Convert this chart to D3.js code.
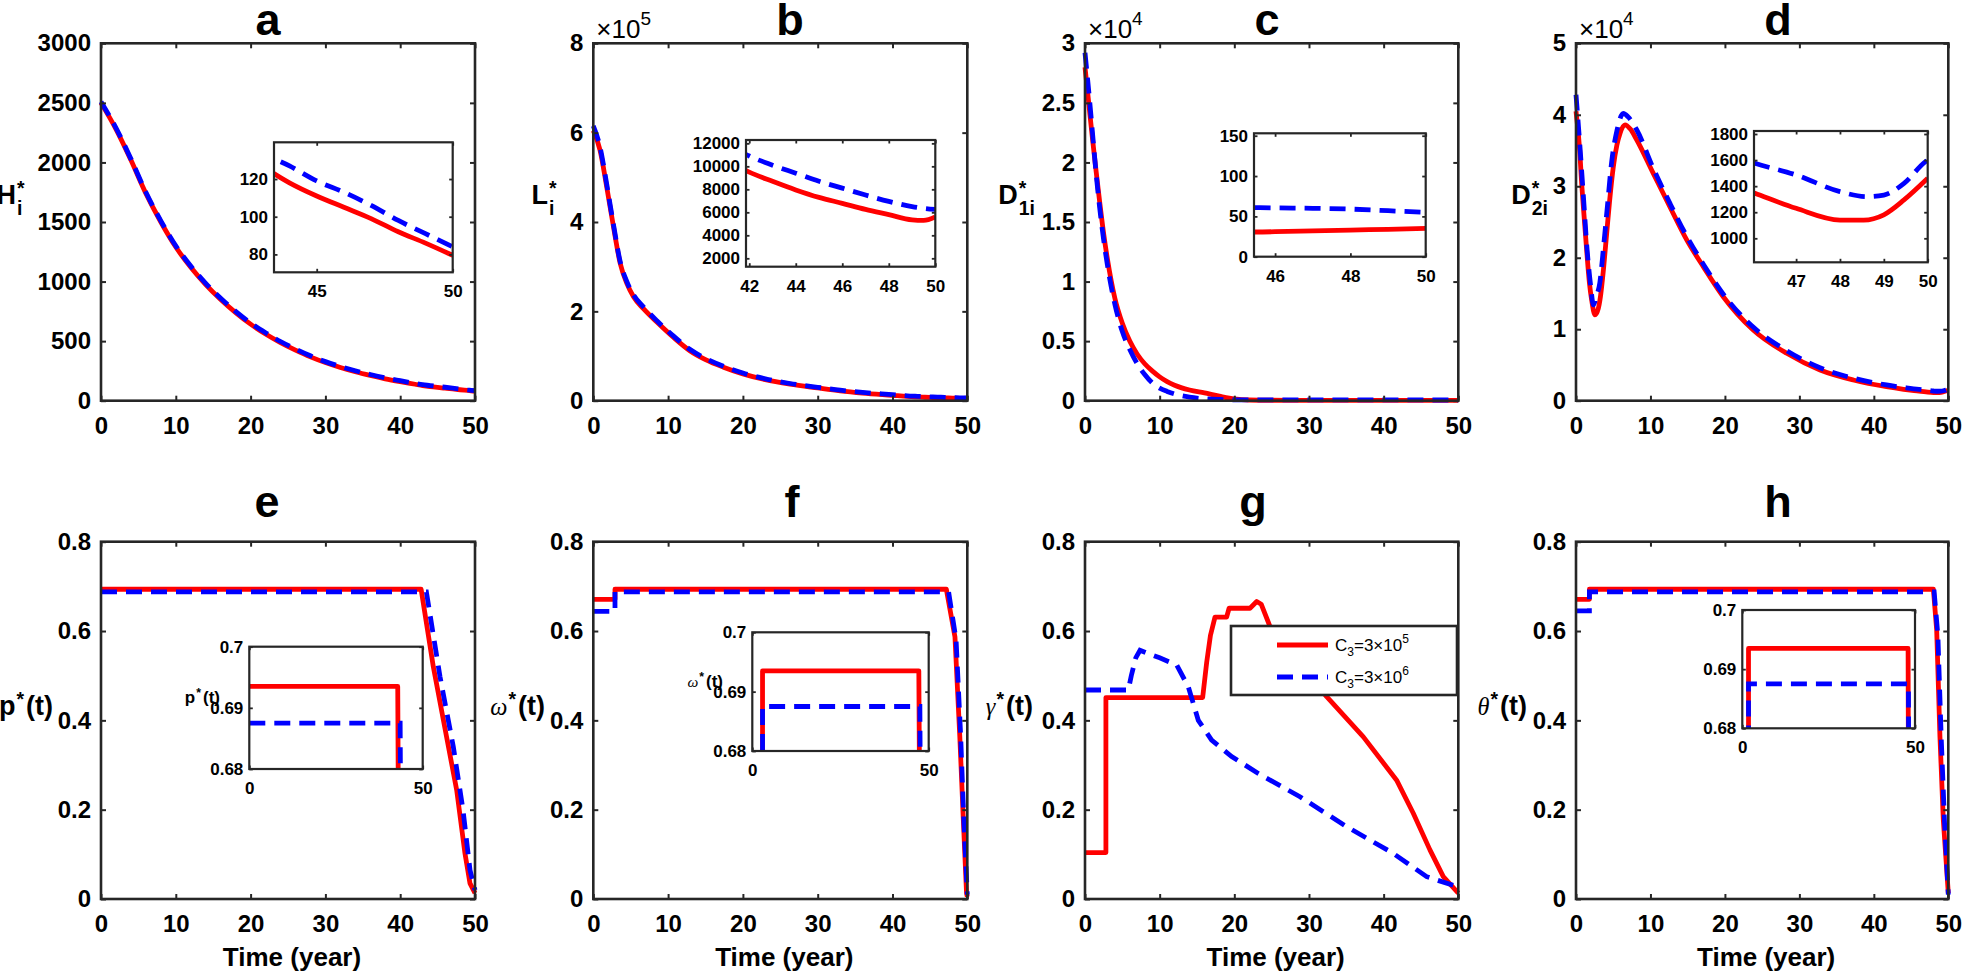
<!DOCTYPE html>
<html><head><meta charset="utf-8">
<script src="https://cdn.jsdelivr.net/npm/d3@7"></script>
<style>
body{margin:0;background:#fff;}
svg{display:block;}
</style></head><body>
<svg id="chart" width="1968" height="972"></svg>
<script>
// ---------------- DATA ----------------
const mainXTicks = [0,10,20,30,40,50];
const aYTicks = [0,500,1000,1500,2000,2500,3000];
const bYTicks = [0,200000,400000,600000,800000];
const cYTicks = [0,5000,10000,15000,20000,25000,30000];
const dYTicks = [0,10000,20000,30000,40000,50000];
const ctrlYTicks = [0,0.2,0.4,0.6,0.8];

// a: H_i*
const aTime = [0,2,4,6,8,10,12,14,16,18,20,22,24,26,28,30,32,34,36,38,40,42,43,44,45,46,47,48,49,50];
const aRed  = [2500,2280,2020,1740,1500,1290,1120,975,850,740,643,560,488,425,368,320,279,243,212,184,160,138,127,118,111,105,99,92,86,79.5];
const aBlue = [2510,2290,2030,1750,1510,1300,1130,985,860,750,652,570,497,434,377,328,287,251,220,192,168,145,134,127,119,113,106,98,91,84];
const aInsetXTicks = [45,50];
const aInsetYTicks = [80,100,120];

// b: L_i*
const bTime = [0,0.9,1.8,2.7,3.6,4.5,5.4,6.7,8.5,10.7,12.9,15,17.4,20,23,26.3,30,33,36,40,42,43,44,45,46,47,48,49,49.5,50];
const bRed  = [605000,561000,478000,389000,307000,262000,232000,206000,176000,142000,112000,92000,75000,60000,47000,37000,28500,22000,17000,12000,9500,8700,7950,7300,6780,6250,5800,5350,5300,5600];
const bBlue = [615000,568000,484000,394000,311000,266000,236000,210000,179000,145000,115000,94500,77000,62000,49000,38500,30000,23500,18500,13500,10900,10100,9400,8700,8100,7500,6950,6500,6350,6250];
const bInsetXTicks = [42,44,46,48,50];
const bInsetYTicks = [2000,4000,6000,8000,10000,12000];

// c: D_1i*
const cTimeRed = [0,0.5,1,1.5,2,2.5,3,3.5,4,5,6,7,8,9,10,11,12,14,16,18,20,22,25,30,35,40,45,46,47,48,49,50];
const cRed     = [28000,25000,22000,19200,16500,14000,11900,10100,8600,6500,5000,3900,3100,2500,2000,1600,1300,900,650,380,150,60,36,32,31,31,30.5,31,32,33,34,35];
const cTimeBlue = [0,0.5,1,1.5,2,2.5,3,3.5,4,5,6,7,8,9,10,11,12,14,16,18,20,25,30,40,45,46,47,48,49,50];
const cBlue     = [29200,26000,22500,19000,16000,13500,11400,9600,8100,5800,4300,3100,2200,1500,1050,780,560,300,160,100,75,64,62,61,61,60.5,60,59,57,55];
const cInsetXTicks = [46,48,50];
const cInsetYTicks = [0,50,100,150];

// d: D_2i*
const dTimeRed = [0,0.5,0.76,1,1.43,1.8,2.1,2.55,3,3.22,3.7,4.12,4.5,5.01,5.5,5.91,6.58,7.3,8.15,10.38,12.62,14.87,17.1,19.78,23.8,28.3,32.77,37.24,41.7,44,46.06,47,48,48.54,49,49.46,50];
const dRed     = [40500,35000,30400,27000,21100,16500,14100,12000,12900,14100,18500,23400,27800,32700,35800,37400,38600,38000,36500,31800,27100,22500,18750,14550,9900,6630,4300,2900,1960,1600,1345,1230,1140,1140,1180,1294,1460];
const dTimeBlue = [0,0.5,1,1.5,2,2.33,2.7,3.2,3.7,4.2,4.8,5.5,6.35,7,8.15,10.38,12.62,14.87,17.1,19.78,23.8,28.3,32.77,37.24,41.7,44,46.06,47,48,48.6,49,49.46,49.95,50];
const dBlue     = [42800,36000,28500,21000,15800,13400,14500,16500,21500,27000,33500,37800,40200,39700,37900,32500,27600,23000,19100,14900,10300,7000,4600,3150,2200,1850,1575,1486,1358,1320,1332,1422,1588,1600];
const dInsetXTicks = [47,48,49,50];
const dInsetYTicks = [1000,1200,1400,1600,1800];

// e: p*(t)
const eTimeRed = [0,42.8,44.43,46.2,47.55,48.66,49.33,50];
const eRed     = [0.6935,0.6935,0.52,0.363,0.244,0.102,0.035,0.013];
const eTimeBlue = [0,43.5,45.32,47.1,48.4,49.33,50];
const eBlue     = [0.6875,0.6875,0.498,0.341,0.199,0.065,0.02];

// f: omega*(t)
const fTimeRed = [0,2.9,2.9,47.2,48.35,49.0,49.47,49.9,50];
const fRed     = [0.671,0.671,0.6935,0.6935,0.587,0.363,0.177,0.013,0.005];
const fTimeBlue = [0,2.9,2.9,47.5,48.5,49.1,49.55,50];
const fBlue     = [0.644,0.644,0.6875,0.6875,0.58,0.37,0.17,0.01];

// g: gamma*(t)
const gTimeRed = [0,2.8,2.8,15.76,16.3,16.8,17.41,18.97,19.3,22.1,23.0,23.6,24.78,32.37,37.28,41.74,43.97,46.2,47.99,50];
const gRed     = [0.104,0.104,0.451,0.451,0.53,0.59,0.631,0.631,0.651,0.651,0.666,0.66,0.61,0.453,0.363,0.266,0.192,0.110,0.050,0.013];
const gTimeBlue = [0,5.8,6.2,6.8,7.37,8.26,10,12.28,13.84,15.18,16.96,19.64,23.21,28.79,35.04,41.29,45.76,49.78,50];
const gBlue     = [0.468,0.468,0.50,0.54,0.557,0.551,0.54,0.524,0.475,0.40,0.356,0.319,0.281,0.229,0.162,0.102,0.050,0.028,0.027];

// h: theta*(t)
const hTimeRed = [0,1.8,1.8,48.0,48.44,48.88,49.33,50];
const hRed     = [0.671,0.671,0.6935,0.6935,0.602,0.363,0.177,0.013];
const hTimeBlue = [0,1.8,1.8,48.1,48.6,49.05,49.5,50];
const hBlue     = [0.645,0.645,0.6875,0.6875,0.59,0.36,0.17,0.01];

const ctrlInsetXTicks = [0,50];
const ctrlInsetYTicks = [0.68,0.69,0.7];

const legendLabels = [{base:"C", sub:"3", mid:"=3×10", sup:"5"},{base:"C", sub:"3", mid:"=3×10", sup:"6"}];

// ---------------- LAYOUT ----------------
const FONT = '"Liberation Sans", Arial, Helvetica, sans-serif';
const AX = '#262626';
const RED = '#ff0000', BLUE = '#0000ff';
const colX = [[101,475],[593.3,967.3],[1085,1458.3],[1576,1948.3]];
const rowY = [[43.3,400.7],[541.7,899]];
const svg = d3.select('#chart');
let clipId = 0;

const zip = (t, v) => t.map((d,i)=>[d, v[i]]);

function frame(g, x, y, xt, yt, o) {
  const [x0,x1] = x.range(); const [y1,y0] = y.range();
  const fmtX = o.xFmt || (d=>String(d));
  const fmtY = o.yFmt || (d=>String(d));
  const axes = [
    g.append('g').attr('transform',`translate(0,${y1})`).call(d3.axisBottom(x).tickValues(xt).tickSize(-o.tl).tickPadding(o.xPad).tickFormat(fmtX)),
    g.append('g').attr('transform',`translate(0,${y0})`).call(d3.axisTop(x).tickValues(xt).tickSize(-o.tl).tickFormat('')),
    g.append('g').attr('transform',`translate(${x0},0)`).call(d3.axisLeft(y).tickValues(yt).tickSize(-o.tl).tickPadding(o.yPad).tickFormat(fmtY)),
    g.append('g').attr('transform',`translate(${x1},0)`).call(d3.axisRight(y).tickValues(yt).tickSize(-o.tl).tickFormat(''))
  ];
  axes.forEach(a=>{
    a.attr('font-family',null).attr('font-size',null);
    a.select('.domain').remove();
    a.selectAll('line').attr('stroke',AX).attr('stroke-width',o.tw);
    a.selectAll('text').attr('fill','#000').style('font-family',FONT).style('font-size',o.fs+'px').style('font-weight','bold');
  });
  g.append('rect').attr('x',x0).attr('y',y0).attr('width',x1-x0).attr('height',y1-y0)
    .attr('fill','none').attr('stroke',AX).attr('stroke-width',o.bw);
}

function drawLines(g, x, y, red, blue, curve, clip) {
  const line = d3.line().x(d=>x(d[0])).y(d=>y(d[1])).curve(curve);
  let lg = g.append('g');
  if (clip) {
    const id = 'clip' + (clipId++);
    const [x0,x1] = x.range(); const [y1,y0] = y.range();
    g.append('clipPath').attr('id',id).append('rect').attr('x',x0).attr('y',y0).attr('width',x1-x0).attr('height',y1-y0);
    lg.attr('clip-path',`url(#${id})`);
  }
  lg.append('path').datum(red).attr('d',line).attr('fill','none').attr('stroke',RED).attr('stroke-width',4.8).attr('stroke-linejoin','round');
  lg.append('path').datum(blue).attr('d',line).attr('fill','none').attr('stroke',BLUE).attr('stroke-width',4.8).attr('stroke-dasharray','16,9');
}

function richLabel(parent, xRight, baseline, spec, fs) {
  const g = parent.append('g');
  const greek = !!spec.greek;
  const base = g.append('text').attr('x',0).attr('y',0)
    .style('font-family', greek ? '"Liberation Serif","DejaVu Serif",serif' : FONT)
    .style('font-style', greek ? 'italic' : 'normal')
    .style('font-weight', greek ? 'normal' : 'bold')
    .style('font-size', (greek ? fs*0.9 : fs)+'px').text(spec.base);
  const w = base.node().getComputedTextLength();
  const small = fs*0.72;
  let ex = 0;
  if (spec.sup) {
    const s = g.append('text').attr('x', w+1).attr('y', -fs*0.33)
      .style('font-family',FONT).style('font-weight','bold').style('font-size',small+'px').text(spec.sup);
    ex = Math.max(ex, s.node().getComputedTextLength());
  }
  if (spec.sub) {
    const s = g.append('text').attr('x', w+1).attr('y', fs*0.42)
      .style('font-family',FONT).style('font-weight','bold').style('font-size',small+'px').text(spec.sub);
    ex = Math.max(ex, s.node().getComputedTextLength());
  }
  if (spec.tail) {
    g.append('text').attr('x', w+ex+3).attr('y',0)
      .style('font-family',FONT).style('font-weight','bold').style('font-size',fs+'px').text(spec.tail);
  }
  const bb = g.node().getBBox();
  g.attr('transform',`translate(${xRight-(bb.x+bb.width)},${baseline})`);
}

const fmtE5 = d => String(d/1e5);
const fmtE4 = d => String(d/1e4);

const panels = [
  {col:0,row:0,title:'a',tx:268, red:zip(aTime,aRed), blue:zip(aTime,aBlue), yd:[0,3000], yt:aYTicks, curve:d3.curveMonotoneX,
   label:{base:'H',sub:'i',sup:'*'}, lx:25,
   inset:{box:[274,142.3,452.7,272.3], xd:[43.43,50], yd:[70.5,139.5], xt:aInsetXTicks, yt:aInsetYTicks}},
  {col:1,row:0,title:'b',tx:790, red:zip(bTime,bRed), blue:zip(bTime,bBlue), yd:[0,800000], yt:bYTicks, yFmt:fmtE5, exp:'5', curve:d3.curveMonotoneX,
   label:{base:'L',sub:'i',sup:'*'}, lx:557,
   inset:{box:[746,140,935.3,266.7], xd:[41.86,50], yd:[1270,12290], xt:bInsetXTicks, yt:bInsetYTicks}},
  {col:2,row:0,title:'c',tx:1267, red:zip(cTimeRed,cRed), blue:zip(cTimeBlue,cBlue), yd:[0,30000], yt:cYTicks, yFmt:fmtE4, exp:'4', curve:d3.curveMonotoneX,
   label:{base:'D',sub:'1i',sup:'*'}, lx:1035,
   inset:{box:[1254,133.3,1425.7,256.7], xd:[45.44,50], yd:[0,153], xt:cInsetXTicks, yt:cInsetYTicks}},
  {col:3,row:0,title:'d',tx:1778, red:zip(dTimeRed,dRed), blue:zip(dTimeBlue,dBlue), yd:[0,50000], yt:dYTicks, yFmt:fmtE4, exp:'4', curve:d3.curveMonotoneX,
   label:{base:'D',sub:'2i',sup:'*'}, lx:1548,
   inset:{box:[1754,131,1927.7,262.3], xd:[46.04,50], yd:[816,1823], xt:dInsetXTicks, yt:dInsetYTicks}},
  {col:0,row:1,title:'e',tx:267, red:zip(eTimeRed,eRed), blue:zip(eTimeBlue,eBlue), yd:[0,0.8], yt:ctrlYTicks, curve:d3.curveLinear,
   label:{base:'p',sup:'*',tail:'(t)'}, lx:53,
   inset:{box:[249.3,646.7,422.7,769], xd:[0,50], yd:[0.68,0.70], xt:ctrlInsetXTicks, yt:ctrlInsetYTicks, label:{base:'p',sup:'*',tail:'(t)'}, lx:220, ly:703}},
  {col:1,row:1,title:'f',tx:792, red:zip(fTimeRed,fRed), blue:zip(fTimeBlue,fBlue), yd:[0,0.8], yt:ctrlYTicks, curve:d3.curveLinear,
   label:{base:'ω',sup:'*',tail:'(t)',greek:true}, lx:545,
   inset:{box:[752.3,632.3,928.7,751], xd:[0,50], yd:[0.68,0.70], xt:ctrlInsetXTicks, yt:ctrlInsetYTicks, label:{base:'ω',sup:'*',tail:'(t)',greek:true}, lx:723, ly:687}},
  {col:2,row:1,title:'g',tx:1253, red:zip(gTimeRed,gRed), blue:zip(gTimeBlue,gBlue), yd:[0,0.8], yt:ctrlYTicks, curve:d3.curveLinear,
   label:{base:'γ',sup:'*',tail:'(t)',greek:true}, lx:1033, legend:true},
  {col:3,row:1,title:'h',tx:1778, red:zip(hTimeRed,hRed), blue:zip(hTimeBlue,hBlue), yd:[0,0.8], yt:ctrlYTicks, curve:d3.curveLinear,
   label:{base:'θ',sup:'*',tail:'(t)',greek:true}, lx:1527,
   inset:{box:[1742.3,610,1915,728.3], xd:[0,50], yd:[0.68,0.70], xt:ctrlInsetXTicks, yt:ctrlInsetYTicks}}
];

panels.forEach(p=>{
  const [x0,x1] = colX[p.col]; const [y0,y1] = rowY[p.row];
  const g = svg.append('g');
  const x = d3.scaleLinear().domain([0,50]).range([x0,x1]);
  const y = d3.scaleLinear().domain(p.yd).range([y1,y0]);
  drawLines(g, x, y, p.red, p.blue, p.curve, false);
  frame(g, x, y, mainXTicks, p.yt, {tl:5, tw:2, bw:2.6, fs:24, xPad:16, yPad:10, yFmt:p.yFmt});

  // title
  g.append('text').attr('x',p.tx).attr('y', p.row===0 ? 35 : 517).attr('text-anchor','middle')
    .style('font-family',FONT).style('font-weight','bold').style('font-size','45px').text(p.title);

  // y label
  richLabel(g, p.lx, p.row===0 ? 204 : 715, p.label, 27);

  // x label
  if (p.row===1) {
    g.append('text').attr('x',(x0+x1)/2+4).attr('y',966).attr('text-anchor','middle')
      .style('font-family',FONT).style('font-weight','bold').style('font-size','26px').text('Time (year)');
  }

  // exponent
  if (p.exp) {
    const t = g.append('text').attr('x',x0+3).attr('y',38).style('font-family',FONT).style('font-size','26px');
    t.append('tspan').text('×10');
    t.append('tspan').attr('dy',-13).style('font-size','19px').text(p.exp);
  }

  // inset
  if (p.inset) {
    const ib = p.inset.box;
    const ig = g.append('g');
    ig.append('rect').attr('x',ib[0]).attr('y',ib[1]).attr('width',ib[2]-ib[0]).attr('height',ib[3]-ib[1]).attr('fill','#fff');
    const ix = d3.scaleLinear().domain(p.inset.xd).range([ib[0],ib[2]]);
    const iy = d3.scaleLinear().domain(p.inset.yd).range([ib[3],ib[1]]);
    drawLines(ig, ix, iy, p.red, p.blue, p.curve, true);
    frame(ig, ix, iy, p.inset.xt, p.inset.yt, {tl:3.5, tw:1.8, bw:2.2, fs:17, xPad:13, yPad:6});
    if (p.inset.label) richLabel(ig, p.inset.lx, p.inset.ly, p.inset.label, 17);
  }

  // legend
  if (p.legend) {
    const lg = g.append('g');
    lg.append('rect').attr('x',1231).attr('y',626).attr('width',226).attr('height',69)
      .attr('fill','#fff').attr('stroke',AX).attr('stroke-width',2.6);
    const rows = [{y:645, c:RED, dash:null},{y:677, c:BLUE, dash:'16,9'}];
    rows.forEach((r,i)=>{
      lg.append('line').attr('x1',1277).attr('x2',1328).attr('y1',r.y).attr('y2',r.y)
        .attr('stroke',r.c).attr('stroke-width',4.8).attr('stroke-dasharray',r.dash);
      const L = legendLabels[i];
      const t = lg.append('text').attr('x',1335).attr('y',r.y+6).style('font-family',FONT).style('font-size','17px');
      t.append('tspan').text(L.base);
      t.append('tspan').attr('dy',5).style('font-size','12px').text(L.sub);
      t.append('tspan').attr('dy',-5).text(L.mid);
      t.append('tspan').attr('dy',-8).style('font-size','12px').text(L.sup);
    });
  }
});
</script>
</body></html>
